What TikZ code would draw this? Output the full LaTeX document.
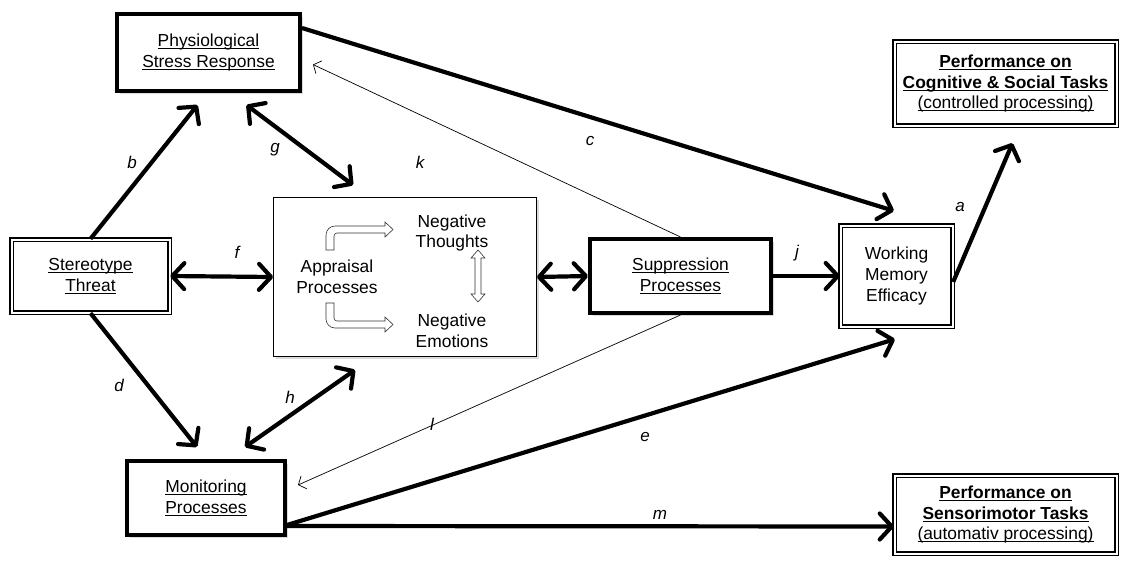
\documentclass[tikz,border=0pt]{standalone}
\usepackage{fontspec}
\setmainfont{Liberation Sans}
\usetikzlibrary{arrows.meta,calc,shadows}
% underline with a fixed depth below the baseline
\newcommand\ulbox[1]{\setbox0=\hbox{#1}\rlap{\rule[-2.6pt]{\wd0}{1.1pt}}\box0}
\tikzset{
  base/.style={font=\fontsize{17.4}{20.8}\selectfont, align=center, inner sep=0pt, fill=white},
  shade/.style={drop shadow={shadow xshift=2.5pt, shadow yshift=-2.5pt, opacity=0.28}},
  thickbox/.style={base, shade, draw, line width=4pt},
  dblbox/.style={base, shade, draw, double, double distance=2pt, line width=1.3pt},
  thinbox/.style={base, shade, draw, line width=0.8pt},
  tip/.style={Straight Barb[length=12pt,width=26pt,round]},
  conn/.style={line width=4.2pt, -{Straight Barb[length=12pt,width=26pt,round]}},
  biconn/.style={line width=4.2pt, {Straight Barb[length=12pt,width=26pt,round]}-{Straight Barb[length=12pt,width=26pt,round]}},
  thinconn/.style={line width=0.7pt, -{Straight Barb[length=6pt,width=14pt]}},
  lbl/.style={font=\fontsize{17}{20}\selectfont\itshape, inner sep=0pt},
  hollow/.style={draw=black!80, line width=0.6pt, fill=white},
}
\begin{document}
\begin{tikzpicture}[x=1pt,y=-1pt]
\fill[white] (0,0) rectangle (1126,563);
\useasboundingbox (0,0) rectangle (1126,563);

% boxes
\node[thickbox, minimum width=183, minimum height=77] (phys) at (208.5,52.5)
  {\ulbox{Physiological}\\\ulbox{Stress Response}};
\node[dblbox, minimum width=222, minimum height=84] (cog) at (1005.5,83.5)
  {\ulbox{\textbf{Performance on}}\\\ulbox{\textbf{Cognitive \& Social Tasks}}\\\ulbox{(controlled processing)}};
\node[dblbox, minimum width=158, minimum height=73] (st) at (90.5,276)
  {\ulbox{Stereotype}\\\ulbox{Threat}};
\node[thinbox, minimum width=263, minimum height=159] (app) at (405,277) {};
\node[thickbox, minimum width=181, minimum height=74] (sup) at (680.5,276)
  {\ulbox{Suppression}\\\ulbox{Processes}};
\node[dblbox, minimum width=112, minimum height=101] (wme) at (896.5,276)
  {Working\\Memory\\Efficacy};
\node[thickbox, minimum width=158, minimum height=74] (mon) at (206,498)
  {\ulbox{Monitoring}\\\ulbox{Processes}};
\node[dblbox, minimum width=222, minimum height=78] (sen) at (1005.5,514.5)
  {\ulbox{\textbf{Performance on}}\\\ulbox{\textbf{Sensorimotor Tasks}}\\\ulbox{(automativ processing)}};

% contents of the appraisal box
\node[base, fill=none] (appr) at (337,277) {Appraisal\\Processes};
\node[base, fill=none] (nthou) at (452,233) {Negative\\Thoughts};
\node[base, fill=none] (nemo) at (452,331) {Negative\\Emotions};

% hollow block arrows
\draw[hollow] (326,250) [rounded corners=9pt] -- (326,226) [sharp corners] -- (385,226) -- (385,222) -- (393,229.5)
  -- (385,237) -- (385,233) [rounded corners=3pt] -- (334,233) [sharp corners] -- (334,250) -- cycle;
\draw[hollow] (326,303) [rounded corners=9pt] -- (326,328) [sharp corners] -- (385,328) -- (385,332) -- (393,324.5)
  -- (385,317) -- (385,321) [rounded corners=3pt] -- (334,321) [sharp corners] -- (334,303) -- cycle;
\draw[hollow] (478,250) -- (485,258) -- (481,258) -- (481,294) -- (485,294) -- (478,302)
  -- (471,294) -- (475,294) -- (475,258) -- (471,258) -- cycle;

% connectors
\draw[conn] (st.north) -- ($(phys.south)+(-11,12)$);
\draw[biconn] ($(phys.south)+(38,12)$) -- ($(app.north west)+(80,-12)$);
\draw[conn] ($(phys.north east)+(0,16)$) -- ($(wme.north west)+(54,-14)$);
\draw[thinconn] (sup.north) -- ($(phys.east)+(11,12)$);
\draw[biconn] (st.east) -- (app.west);
\draw[biconn] (app.east) -- (sup.west);
\draw[conn] (sup.east) -- (wme.west);
\draw[conn] ($(wme.east)+(0,6)$) -- ($(cog.south)+(7,17)$);
\draw[conn] (st.south) -- ($(mon.north)+(-9,-12)$);
\draw[biconn] ($(app.south west)+(82,13)$) -- ($(mon.north)+(39,-12)$);
\draw[thinconn] (sup.south) -- ($(mon.east)+(11,-13)$);
\draw[conn] ($(mon.south east)+(0,-12)$) -- ($(wme.south west)+(55,12)$);
\draw[conn] ($(mon.south east)+(0,-11)$) -- ($(sen.west)+(0,12)$);

% path labels
\node[lbl] (lb) at (132,162) {b};
\node[lbl] (lg) at (275,150) {g};
\node[lbl] (lc) at (590,141) {c};
\node[lbl] (lk) at (420,162) {k};
\node[lbl] (lf) at (237,252) {f};
\node[lbl] (lj) at (797,253) {j};
\node[lbl] (la) at (960,207) {a};
\node[lbl] (ld) at (119,385) {d};
\node[lbl] (lh) at (290,397) {h};
\node[lbl] (ll) at (432,424) {l};
\node[lbl] (le) at (645,437) {e};
\node[lbl] (lm) at (660,515) {m};
\end{tikzpicture}
\end{document}
